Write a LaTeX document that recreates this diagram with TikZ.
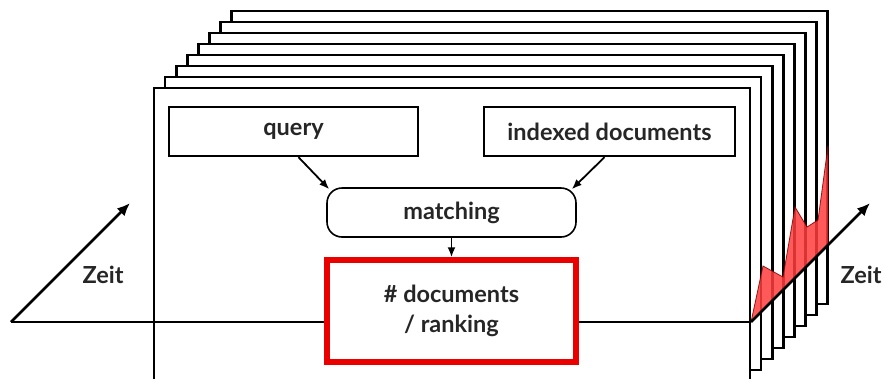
\documentclass[tikz,border=0pt]{standalone}
\usepackage{fontspec}
\setmainfont{Lato}
\usetikzlibrary{arrows.meta}
\definecolor{plotred}{RGB}{255,60,60}
\definecolor{boxred}{RGB}{235,0,0}
\tikzset{
	page/.style={draw, fill=white, line width=2.6},
	label/.style={font=\bfseries\fontsize{23.5}{30}\selectfont, text=black!85, align=center},
	procbox/.style={label, draw, line width=2.4, minimum height=49},
	flow/.style={-{Latex[length=10pt,width=8pt]}, line width=1.8pt},
	axis/.style={-{Latex[length=13pt,width=11pt]}, line width=2.6pt},
}
\begin{document}
\begin{tikzpicture}[x=1pt, y=-1pt]
		\useasboundingbox (0,0) rectangle (886,378);
		\foreach \i in {7,6,...,0}
			\draw[page] (154+11.1*\i,88-11*\i) rectangle (750+11.1*\i,381-11*\i);

		\coordinate (origL) at (11,322);
		\coordinate (tipL) at (130,203);
		\coordinate (origR) at (751,322);
		\coordinate (tipR) at (870,203);

		\fill[plotred, opacity=0.85, draw=red!50!black, line width=0.8] (origR) -- (763,266) -- (783,277) -- (795,207) -- (807,227) -- (818,220) -- (828,146) -- (828,245) -- cycle;

		\node[procbox, minimum width=249] (query) at (293.5,131.5) {query};
		\node[procbox, minimum width=251] (indexed) at (609.5,131.5) {indexed documents};
		\node[procbox, minimum width=249, rounded corners=15, line width=1.6] (matching) at (451.5,212.5) {matching};
		\node[label, draw=boxred, line width=5.5, minimum width=249, minimum height=102] (ranking) at (451.5,311) {\# documents\\/ ranking};

		\draw[flow] ([xshift=5]query.south) -- ([xshift=3,yshift=-2]matching.north west);
		\draw[flow] ([xshift=-5]indexed.south) -- ([xshift=-5,yshift=-2]matching.north east);
		\draw[flow] (matching.south) -- (ranking.north);

		\draw[line width=2.6] (origL) -- (origL -| ranking.west);
		\draw[line width=2.6] (ranking.east |- origR) -- (origR);
		\draw[axis] (origL) -- (tipL);
		\draw[axis] (origR) -- (tipR);
		\node[label] (zeitL) at (103,275) {Zeit};
		\node[label] (zeitR) at (861,275) {Zeit};
	\end{tikzpicture}
\end{document}
